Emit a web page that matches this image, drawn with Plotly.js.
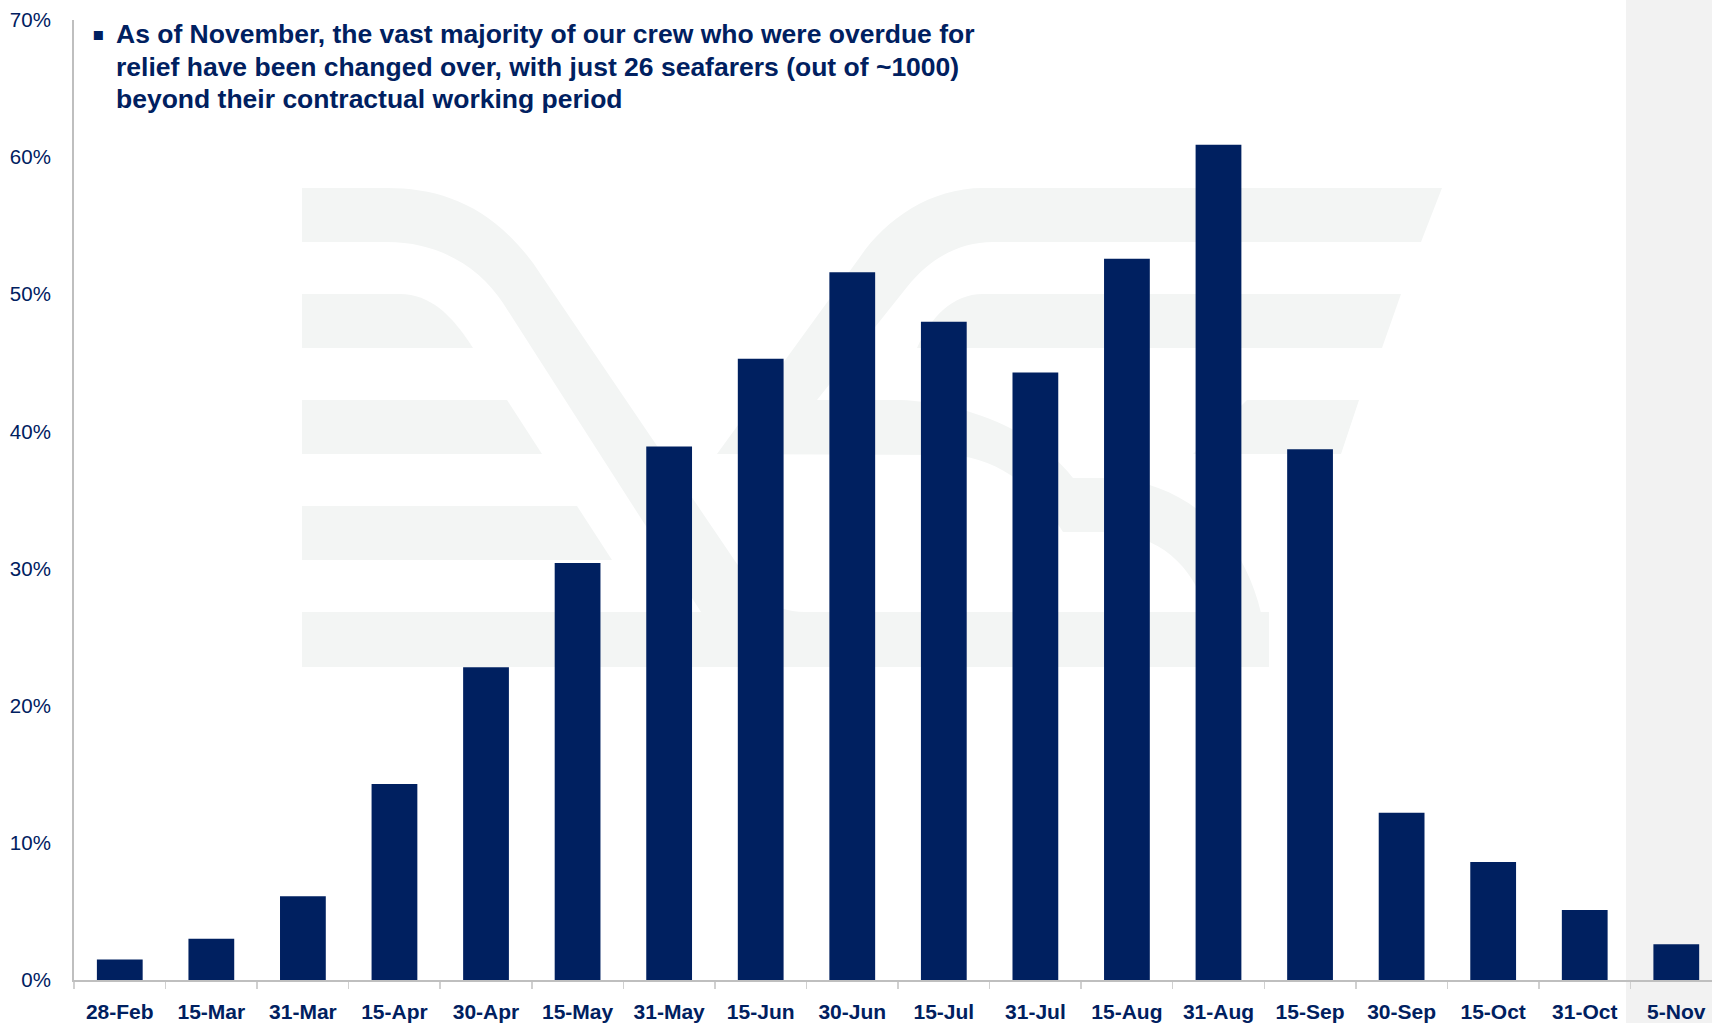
<!DOCTYPE html>
<html>
<head>
<meta charset="utf-8">
<script src="https://cdn.plot.ly/plotly-3.0.1.min.js"></script>
<style>
html,body{margin:0;padding:0;background:#ffffff;}
#chart{width:1712px;height:1023px;}
</style>
</head>
<body>
<div id="chart"></div>
<script>
// ---------- data ----------
const categories = ["28-Feb","15-Mar","31-Mar","15-Apr","30-Apr","15-May","31-May","15-Jun","30-Jun",
                    "15-Jul","31-Jul","15-Aug","31-Aug","15-Sep","30-Sep","15-Oct","31-Oct","5-Nov"];
const overduePct = [1.5, 3.0, 6.1, 14.3, 22.8, 30.4, 38.9, 45.3, 51.6,
                    48.0, 44.3, 52.6, 60.9, 38.7, 12.2, 8.6, 5.1, 2.6];
const yTickVals = [0, 10, 20, 30, 40, 50, 60, 70];
const yTickText = ["0%", "10%", "20%", "30%", "40%", "50%", "60%", "70%"];
const noteLines = [
  "As of November, the vast majority of our crew who were overdue for",
  "relief have been changed over, with just 26 seafarers (out of ~1000)",
  "beyond their contractual working period"
];

// ---------- layout helpers ----------
const W = 1712, H = 1023;
const M = {l: 74, r: 0, t: 20, b: 43};
const PW = W - M.l - M.r, PH = H - M.t - M.b;
const px = X => (X - M.l) / PW;
const py = Y => (M.t + PH - Y) / PH;
const toPaper = d => d.replace(/(-?\d+\.?\d*),(-?\d+\.?\d*)/g,
  (m, a, b) => px(+a).toFixed(5) + ',' + py(+b).toFixed(5));

const NAVY = '#002060';
const WM = '#F3F5F4';

// faint background logo (decoration)
const logoPaths = [
  "M302,188 L387,188 C440,188 490,205 533,263 L752,586 Q770,612 805,612 L701,612 L503,303 C480,268 440,242 387,242 L302,242 Z",
  "M302,294 L400,294 C430,294 452,315 473,348 L302,348 Z",
  "M302,400 L507,400 L542,454 L302,454 Z",
  "M302,506 L577,506 L612,560 L302,560 Z",
  "M302,612 L1269,612 L1269,667 L302,667 Z",
  "M983,188 L1442,188 L1421,242 L993,242 C960,242 930,258 907,287 L817,400 L900,400 C960,402 1035,428 1073,478 L1113,478 C1195,485 1262,545 1269,667 L1207,667 L1207,612 C1192,565 1160,535 1107,532 L1063,532 C1040,495 1005,458 950,455 L717,454 L860,257 C885,220 930,188 983,188 Z",
  "M983,294 L1401,294 L1382,348 L917,348 C930,318 952,294 983,294 Z",
  "M1247,400 L1359,400 L1341,454 L1193,454 Z"
];

const shapes = [
  {type: 'rect', xref: 'paper', yref: 'paper', x0: px(1626), x1: 1.02, y0: -0.06, y1: 1.03,
   fillcolor: '#F2F2F2', line: {width: 0}, layer: 'below'}
].concat(logoPaths.map(d => ({
  type: 'path', xref: 'paper', yref: 'paper', path: toPaper(d),
  fillcolor: WM, line: {width: 0}, layer: 'below'
})));

const trace = {
  type: 'bar',
  x: categories,
  y: overduePct,
  marker: {color: NAVY, line: {width: 0}},
  hoverinfo: 'x+y'
};

const lineY = [34, 66.5, 98.5];
const noteAnnotations = noteLines.map((s, i) => ({
  xref: 'paper', yref: 'paper', x: px(114), y: py(lineY[i]), xanchor: 'left', yanchor: 'middle',
  align: 'left', showarrow: false, text: '<b>' + s + '</b>',
  font: {family: 'Liberation Sans, Arial, sans-serif', size: 26.5, color: NAVY}
}));

const layout = {
  width: W, height: H,
  margin: M,
  paper_bgcolor: '#ffffff',
  plot_bgcolor: 'rgba(0,0,0,0)',
  showlegend: false,
  bargap: 0.5,
  xaxis: {
    type: 'category',
    range: [-0.5, 17.39],
    showline: true, linecolor: '#BFBFBF', linewidth: 2,
    ticks: 'outside', tickson: 'boundaries', ticklen: 7, tickwidth: 1.5, tickcolor: '#D0D0D0',
    showgrid: false, zeroline: false,
    tickfont: {family: 'Liberation Sans, Arial, sans-serif', size: 21, color: NAVY, weight: 'bold'},
    ticklabelstandoff: 12,
    fixedrange: true
  },
  yaxis: {
    range: [0, 70],
    tickvals: yTickVals, ticktext: yTickText,
    showline: true, linecolor: '#BFBFBF', linewidth: 2,
    ticks: '', showgrid: false, zeroline: false,
    tickfont: {family: 'Liberation Sans, Arial, sans-serif', size: 20.5, color: NAVY},
    ticklabelstandoff: 17,
    fixedrange: true
  },
  shapes: shapes,
  annotations: [
    {xref: 'paper', yref: 'paper', x: px(90), y: py(34), xanchor: 'left', yanchor: 'middle',
     text: '▪', showarrow: false,
     font: {family: 'DejaVu Sans, sans-serif', size: 18, color: NAVY}}
  ].concat(noteAnnotations)
};

Plotly.newPlot('chart', [trace], layout, {displayModeBar: false, staticPlot: true});
</script>
</body>
</html>
